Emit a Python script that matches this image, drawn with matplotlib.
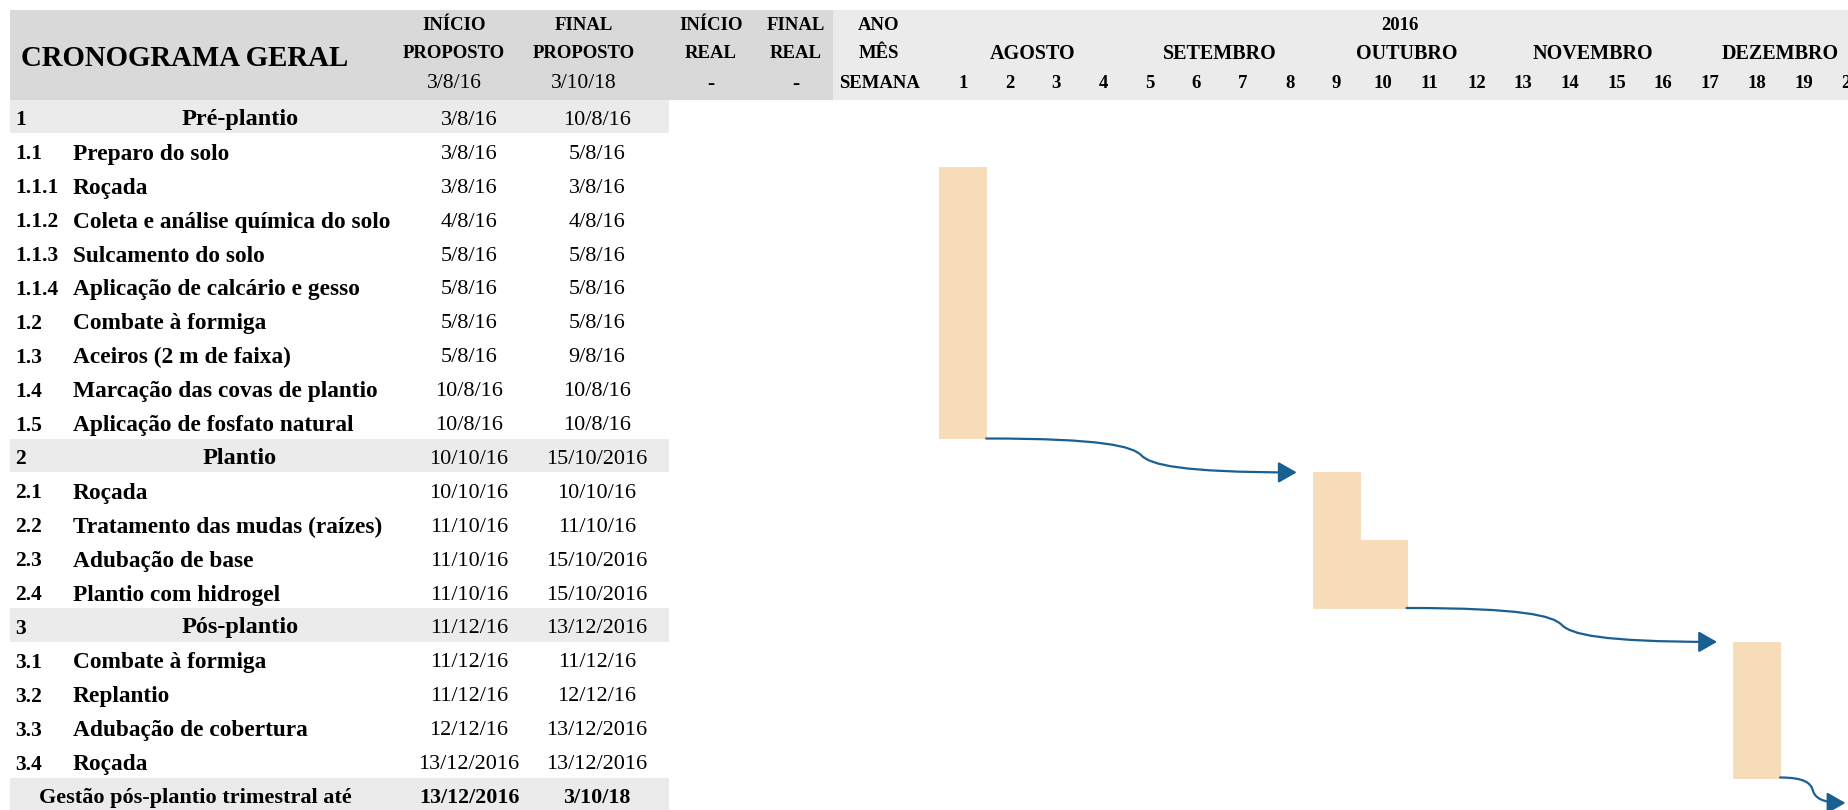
import matplotlib.pyplot as plt
from matplotlib.patches import Rectangle, FancyArrowPatch
from matplotlib.path import Path

plt.rcParams['font.family'] = ['Liberation Serif', 'DejaVu Serif']

# ---- data ----
numbers = ['1', '1.1', '1.1.1', '1.1.2', '1.1.3', '1.1.4', '1.2', '1.3', '1.4', '1.5',
           '2', '2.1', '2.2', '2.3', '2.4',
           '3', '3.1', '3.2', '3.3', '3.4']
names = ['Pré-plantio', 'Preparo do solo', 'Roçada', 'Coleta e análise química do solo',
         'Sulcamento do solo', 'Aplicação de calcário e gesso', 'Combate à formiga',
         'Aceiros (2 m de faixa)', 'Marcação das covas de plantio', 'Aplicação de fosfato natural',
         'Plantio', 'Roçada', 'Tratamento das mudas (raízes)', 'Adubação de base', 'Plantio com hidrogel',
         'Pós-plantio', 'Combate à formiga', 'Replantio', 'Adubação de cobertura', 'Roçada']
starts = ['3/8/16', '3/8/16', '3/8/16', '4/8/16', '5/8/16', '5/8/16', '5/8/16', '5/8/16', '10/8/16', '10/8/16',
          '10/10/16', '10/10/16', '11/10/16', '11/10/16', '11/10/16',
          '11/12/16', '11/12/16', '11/12/16', '12/12/16', '13/12/2016']
ends = ['10/8/16', '5/8/16', '3/8/16', '4/8/16', '5/8/16', '5/8/16', '5/8/16', '9/8/16', '10/8/16', '10/8/16',
        '15/10/2016', '10/10/16', '11/10/16', '15/10/2016', '15/10/2016',
        '13/12/2016', '11/12/16', '12/12/16', '13/12/2016', '13/12/2016']
sections = ['1', '2', '3']

# week where the bar starts (0 = no bar) and how many weeks it lasts
bar_week = [0, 0, 1, 1, 1, 1, 1, 1, 1, 1,
            0, 9, 9, 9, 9,
            0, 18, 18, 18, 18]
bar_len = [0, 0, 1, 1, 1, 1, 1, 1, 1, 1,
           0, 1, 1, 2, 2,
           0, 1, 1, 1, 1]

footer_name = 'Gestão pós-plantio trimestral até'
footer_start = '13/12/2016'
footer_end = '3/10/18'

months = ['AGOSTO', 'SETEMBRO', 'OUTUBRO', 'NOVEMBRO', 'DEZEMBRO']
weeks = list(range(1, 21))
year = '2016'
plan_start = '3/8/16'
plan_end = '3/10/18'

# connectors (week position, row position)
arrow_from_wk = [1.0, 10.0, 18.0]
arrow_from_row = [10, 15, 20]
arrow_to_wk = [7.65, 16.65, 19.4]
arrow_to_row = [11, 16, 20.75]

# ---- layout (pixels) ----
W, H = 1849, 810
ROW0, ROW_H = 99.5, 33.9
HDR_TOP = 9.5
GANTT_X0, WEEK_W = 939.5, 46.7
TXT_DY = 4
BAR_C = '#f6dcb8'
DARK = '#d9d9d9'
LIGHT = '#ebebeb'
BLUE = '#1a5f93'

fig = plt.figure(figsize=(W / 100, H / 100), dpi=100)
ax = fig.add_axes([0, 0, 1, 1])
ax.set_xlim(0, W)
ax.set_ylim(H, 0)
ax.axis('off')

# header backgrounds
ax.add_patch(Rectangle((9.5, HDR_TOP), 833 - 9.5, ROW0 - HDR_TOP, color=DARK, lw=0))
ax.add_patch(Rectangle((833, HDR_TOP), W - 833, ROW0 - HDR_TOP, color=LIGHT, lw=0))

ax.text(21, 58, 'CRONOGRAMA GERAL', fontsize=20.8, weight='bold', va='center', ha='left')
hdr_cols = [(454, 'INÍCIO', 'PROPOSTO', plan_start, 'normal'),
            (584, 'FINAL', 'PROPOSTO', plan_end, 'normal'),
            (711, 'INÍCIO', 'REAL', '-', 'bold'),
            (796, 'FINAL', 'REAL', '-', 'bold')]
for x, l1, l2, l3, w3 in hdr_cols:
    ax.text(x, 26, l1, fontsize=13.5, weight='bold', ha='center', va='center')
    ax.text(x, 54, l2, fontsize=13.5, weight='bold', ha='center', va='center')
    ax.text(x, 84, l3, fontsize=15.5, weight=w3, ha='center', va='center')
ax.text(879, 26, 'ANO', fontsize=13.5, weight='bold', ha='center', va='center')
ax.text(879, 54, 'MÊS', fontsize=13.5, weight='bold', ha='center', va='center')
ax.text(879, 84, 'SEMANA', fontsize=13.5, weight='bold', ha='center', va='center')

# table rows
for i, (num, name, s, e) in enumerate(zip(numbers, names, starts, ends)):
    yc = ROW0 + (i + 0.5) * ROW_H + TXT_DY
    if num in sections:
        ax.add_patch(Rectangle((9.5, ROW0 + i * ROW_H), 669 - 9.5, ROW_H, color=LIGHT, lw=0))
        ax.text(240, yc - 1, name, fontsize=17.5, weight='bold', ha='center', va='center')
    else:
        ax.text(73, yc, name, fontsize=16.8, weight='bold', ha='left', va='center')
    ax.text(15, yc, num, fontsize=15.5, weight='bold', ha='left', va='center')
    ax.text(469, yc, s, fontsize=16, ha='center', va='center')
    ax.text(597, yc, e, fontsize=16, ha='center', va='center')

i = len(numbers)
yc = ROW0 + (i + 0.5) * ROW_H + TXT_DY
ax.add_patch(Rectangle((9.5, ROW0 + i * ROW_H), 669 - 9.5, ROW_H, color=LIGHT, lw=0))
ax.text(195, yc, footer_name, fontsize=16, weight='bold', ha='center', va='center')
ax.text(469, yc, footer_start, fontsize=15.8, weight='bold', ha='center', va='center')
ax.text(597, yc, footer_end, fontsize=15.8, weight='bold', ha='center', va='center')

# ---- gantt axes: x in weeks, y in rows ----
gx = fig.add_axes([GANTT_X0 / W, 0, (W - GANTT_X0) / W, 1])
gx.set_xlim(0, (W - GANTT_X0) / WEEK_W)
gx.set_ylim((H - ROW0) / ROW_H, -ROW0 / ROW_H)
gx.axis('off')

def row_y(px):
    return (px - ROW0) / ROW_H

for k in weeks:
    gx.text(k - 0.5, row_y(84), str(k), fontsize=13.5, weight='bold', ha='center', va='center', clip_on=True)
for m, name in enumerate(months):
    gx.text(4 * m + 2, row_y(54), name, fontsize=14.5, weight='bold', ha='center', va='center')
gx.text(9.85, row_y(26), year, fontsize=13.5, weight='bold', ha='center', va='center')

rows = [i + 0.5 for i in range(len(numbers)) if bar_len[i] > 0]
lefts = [bar_week[i] - 1 for i in range(len(numbers)) if bar_len[i] > 0]
lens = [bar_len[i] for i in range(len(numbers)) if bar_len[i] > 0]
gx.barh(rows, lens, left=lefts, height=1.0, color=BAR_C, edgecolor=BAR_C, linewidth=0.6)

for x0, y0, x1, y1 in zip(arrow_from_wk, arrow_from_row, arrow_to_wk, arrow_to_row):
    xm, ym = (x0 + x1) / 2, (y0 + y1) / 2
    dx, dy = xm - x0, ym - y0
    verts = [(x0, y0), (x0 + 0.75 * dx, y0), (xm - 0.06 * dx, ym - 0.55 * dy), (xm, ym),
             (xm + 0.06 * dx, ym + 0.55 * dy), (x1 - 0.75 * dx, y1), (x1, y1)]
    codes = [Path.MOVETO] + [Path.CURVE4] * 6
    arr = FancyArrowPatch(path=Path(verts, codes), arrowstyle='-|>,head_length=0.7,head_width=0.4',
                          mutation_scale=16, color=BLUE, lw=1.6)
    gx.add_patch(arr)

fig.savefig('out.png', dpi=100)
